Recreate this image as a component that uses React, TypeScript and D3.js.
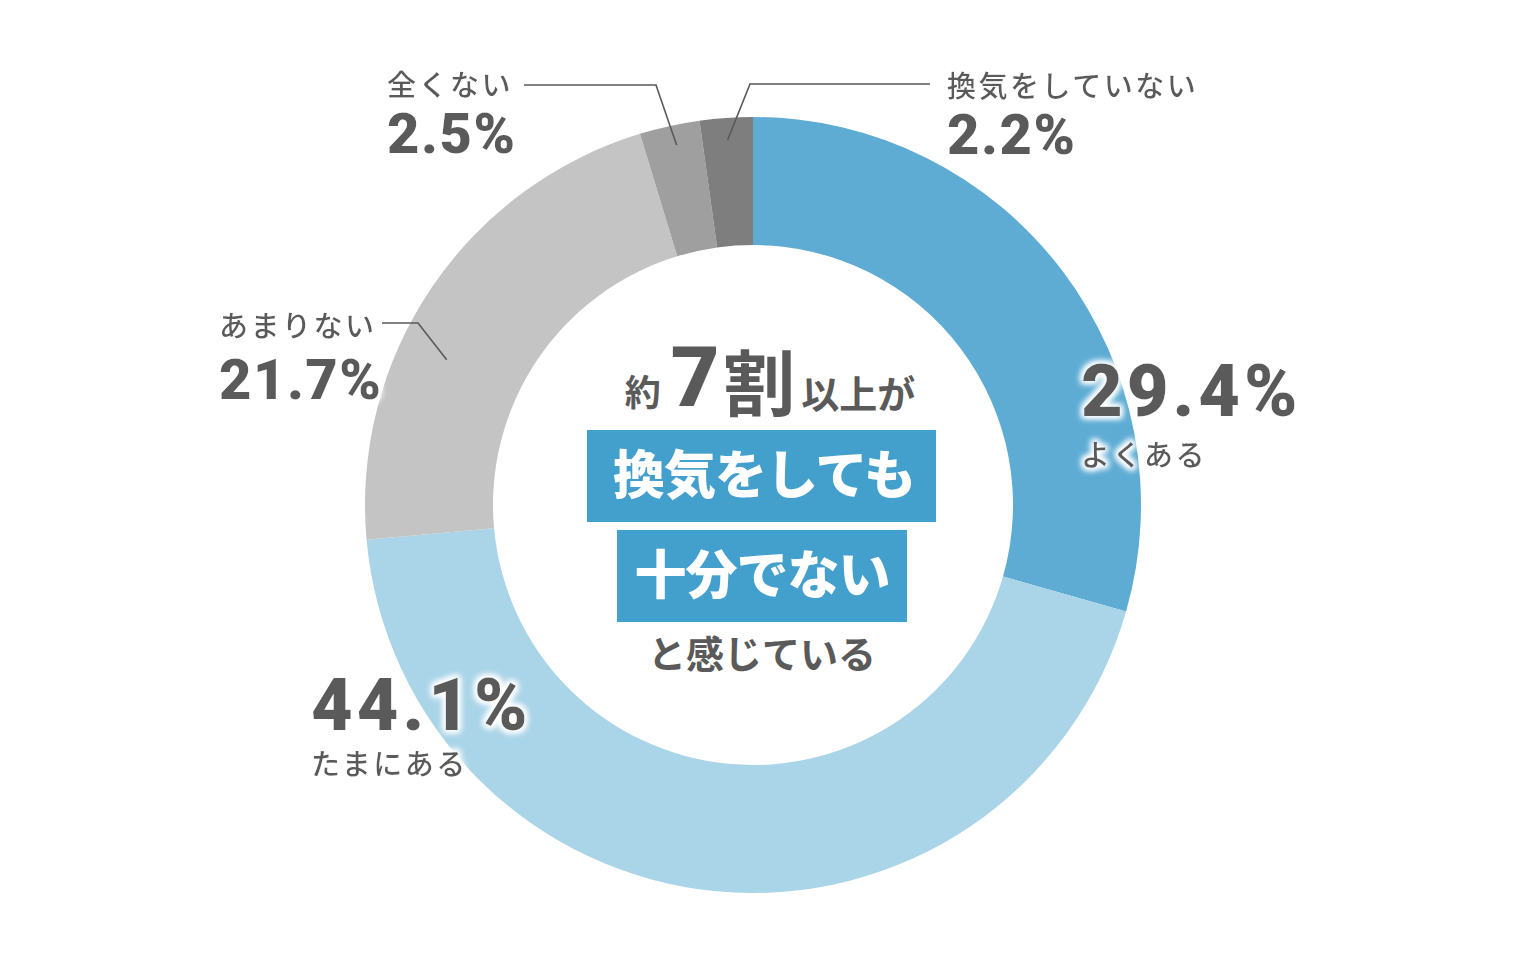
import * as d3 from "d3";
import React from "react";

// survey answers, clockwise from 12 o'clock
const categories = ["よくある", "たまにある", "あまりない", "全くない", "換気をしていない"];
const values = [29.4, 44.1, 21.7, 2.5, 2.2];
const colors = ["#5eacd4", "#aad4e8", "#c4c4c4", "#9f9f9f", "#7f7e7f"];

const headline = ["約", "7", "割", "以上が"];
const boxLines = ["換気をしても", "十分でない"];
const tailLine = "と感じている";

const W = 1520;
const H = 960;
const cx = 753;
const cy = 505;
const outerR = 388;
const innerR = 260;
const textColor = "#5a5a5a";
const jpFont = "'Noto Sans CJK JP', 'Noto Sans', sans-serif";
const numFont = "Roboto, 'Noto Sans', sans-serif";

// label placement per slice: name above or below the percentage
const labelLayout = [
  { x: 1081, y: 416, size: 72, spacing: 4, nameY: 466 },
  { x: 311, y: 730, size: 72, spacing: 4, nameY: 775 },
  { x: 219, y: 399, size: 56, spacing: 1.5, nameY: 337 },
  { x: 387, y: 153, size: 56, spacing: 1.5, nameY: 96 },
  { x: 947, y: 154, size: 56, spacing: 1.5, nameY: 97 },
];

// leader lines: start near label, elbow, tip inside the slice
const leaders: Record<number, { start: [number, number]; elbow: [number, number]; frac: number; r: number }> = {
  2: { start: [382, 323], elbow: [418, 323], frac: 0.39, r: 339 },
  3: { start: [524, 85], elbow: [656, 85], frac: 0.55, r: 368 },
  4: { start: [930, 84], elbow: [750, 84], frac: 0.5, r: 366 },
};

const App: React.FC = () => {
  const pie = d3
    .pie<number>()
    .sort(null)
    .startAngle(0)
    .endAngle(2 * Math.PI)
    .value((d) => d);
  const arcs = pie(values);
  const arc = d3
    .arc<d3.PieArcDatum<number>>()
    .innerRadius(innerR)
    .outerRadius(outerR);

  const polar = (a: number, r: number): [number, number] => [
    cx + r * Math.sin(a),
    cy - r * Math.cos(a),
  ];
  const line = d3.line();

  return (
    <svg
      width={W}
      height={H}
      viewBox={`0 0 ${W} ${H}`}
      style={{ position: "absolute", left: 0, top: 0, background: "#fff" }}
    >
      <defs>
        <filter id="glow" x="-20%" y="-40%" width="140%" height="180%">
          <feMorphology in="SourceAlpha" operator="dilate" radius="1.5" result="d" />
          <feGaussianBlur in="d" stdDeviation="3" result="b" />
          <feFlood floodColor="#ffffff" />
          <feComposite in2="b" operator="in" result="g" />
          <feMerge>
            <feMergeNode in="g" />
            <feMergeNode in="g" />
            <feMergeNode in="SourceGraphic" />
          </feMerge>
        </filter>
      </defs>

      {/* donut */}
      <g transform={`translate(${cx},${cy})`}>
        {arcs.map((a, i) => (
          <path key={categories[i]} d={arc(a) ?? ""} fill={colors[i]} />
        ))}
      </g>

      {/* leader lines */}
      {Object.entries(leaders).map(([k, l]) => {
        const a = arcs[+k];
        const tip = polar(a.startAngle + l.frac * (a.endAngle - a.startAngle), l.r);
        return (
          <path
            key={k}
            d={line([l.start, l.elbow, tip]) ?? ""}
            fill="none"
            stroke={textColor}
            strokeWidth={1.6}
          />
        );
      })}

      {/* slice labels */}
      {labelLayout.map((l, i) => (
        <g key={categories[i]} filter="url(#glow)">
          <text
            x={l.x}
            y={l.y}
            fontFamily={numFont}
            fontWeight={900}
            fontSize={l.size}
            letterSpacing={l.spacing}
            fill={textColor}
          >
            {values[i].toFixed(1)}%
          </text>
          <text
            x={l.x}
            y={l.nameY}
            fontFamily={jpFont}
            fontWeight={500}
            fontSize={29}
            letterSpacing={2.5}
            fill={textColor}
          >
            {categories[i]}
          </text>
        </g>
      ))}

      {/* center message */}
      <text
        x={770}
        y={406}
        textAnchor="middle"
        fontFamily={jpFont}
        fontWeight={700}
        fill={textColor}
      >
        <tspan fontSize={36}>{headline[0]}</tspan>
        <tspan fontSize={84} fontFamily={numFont} fontWeight={900} dx={10}>
          {headline[1]}
        </tspan>
        <tspan fontSize={72} dx={4} dy={4}>
          {headline[2]}
        </tspan>
        <tspan fontSize={38} dx={6} dy={-2}>
          {headline[3]}
        </tspan>
      </text>

      <rect x={587} y={430} width={349} height={92} fill="#439fcc" />
      <text
        x={764}
        y={494}
        textAnchor="middle"
        fontFamily={jpFont}
        fontWeight={900}
        fontSize={52}
        letterSpacing={-1}
        fill="#fff"
      >
        {boxLines[0]}
      </text>

      <rect x={617} y={530} width={290} height={92} fill="#439fcc" />
      <text
        x={762}
        y={594}
        textAnchor="middle"
        fontFamily={jpFont}
        fontWeight={900}
        fontSize={52}
        letterSpacing={-1}
        fill="#fff"
      >
        {boxLines[1]}
      </text>

      <text
        x={762}
        y={668}
        textAnchor="middle"
        fontFamily={jpFont}
        fontWeight={700}
        fontSize={38}
        fill={textColor}
      >
        {tailLine}
      </text>
    </svg>
  );
};

export default App;
